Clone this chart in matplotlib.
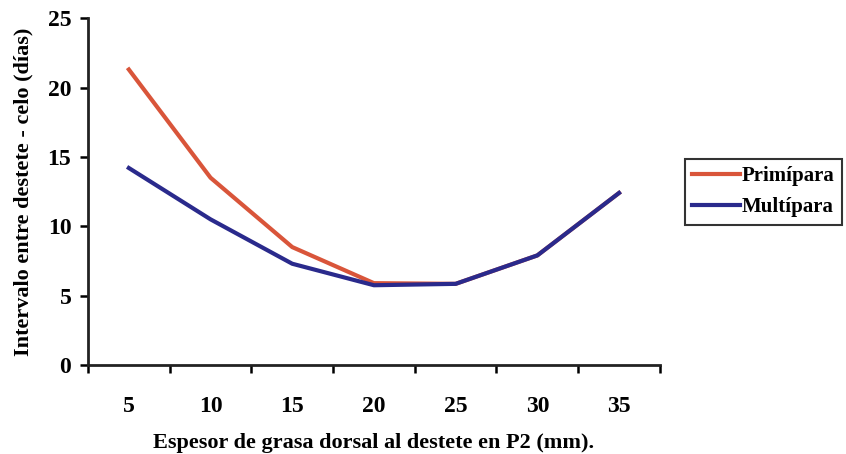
import matplotlib.pyplot as plt
import numpy as np

plt.rcParams['font.family'] = 'Liberation Serif'
plt.rcParams['font.weight'] = 'bold'

espesor = ['5', '10', '15', '20', '25', '30', '35']
primipara = [21.3, 13.5, 8.5, 5.9, 5.85, 7.9, 12.4]
multipara = [14.2, 10.5, 7.3, 5.75, 5.85, 7.9, 12.4]

fig = plt.figure(figsize=(8.46, 4.54), dpi=100)
ax = fig.add_axes([0.104, 0.196, 0.676, 0.764])

x = np.arange(len(espesor))
ax.plot(x, primipara, color='#d9553a', lw=3, label='Primípara')
ax.plot(x, multipara, color='#2a2a8c', lw=3, label='Multípara')

ax.set_xlim(-0.5, len(espesor) - 0.5)
ax.set_ylim(0, 25)
ax.set_yticks([0, 5, 10, 15, 20, 25])
ax.set_xticks(x)
ax.set_xticklabels(espesor)
ax.set_xticks(np.arange(-0.5, len(espesor)), minor=True)
ax.tick_params(axis='x', which='major', length=0, pad=22, labelsize=17)
ax.tick_params(axis='x', which='minor', length=6, width=1.8, direction='out')
ax.tick_params(axis='y', length=6, width=1.8, direction='out', labelsize=17, pad=6)

for s in ['top', 'right']:
    ax.spines[s].set_visible(False)
for s in ['left', 'bottom']:
    ax.spines[s].set_linewidth(2)
    ax.spines[s].set_color('#222222')

ax.set_xlabel('Espesor de grasa dorsal al destete en P2 (mm).', fontsize=16, labelpad=12, fontweight='bold')
ax.set_ylabel('Intervalo entre destete - celo (días)', fontsize=16, labelpad=10, fontweight='bold')

leg = ax.legend(loc='center left', bbox_to_anchor=(1.025, 0.5), frameon=True,
                fancybox=False, edgecolor='black', fontsize=15, handlelength=2.3,
                handletextpad=0.1, borderpad=0.35, labelspacing=0.55)
leg.get_frame().set_linewidth(1.5)

plt.savefig('out.png')
